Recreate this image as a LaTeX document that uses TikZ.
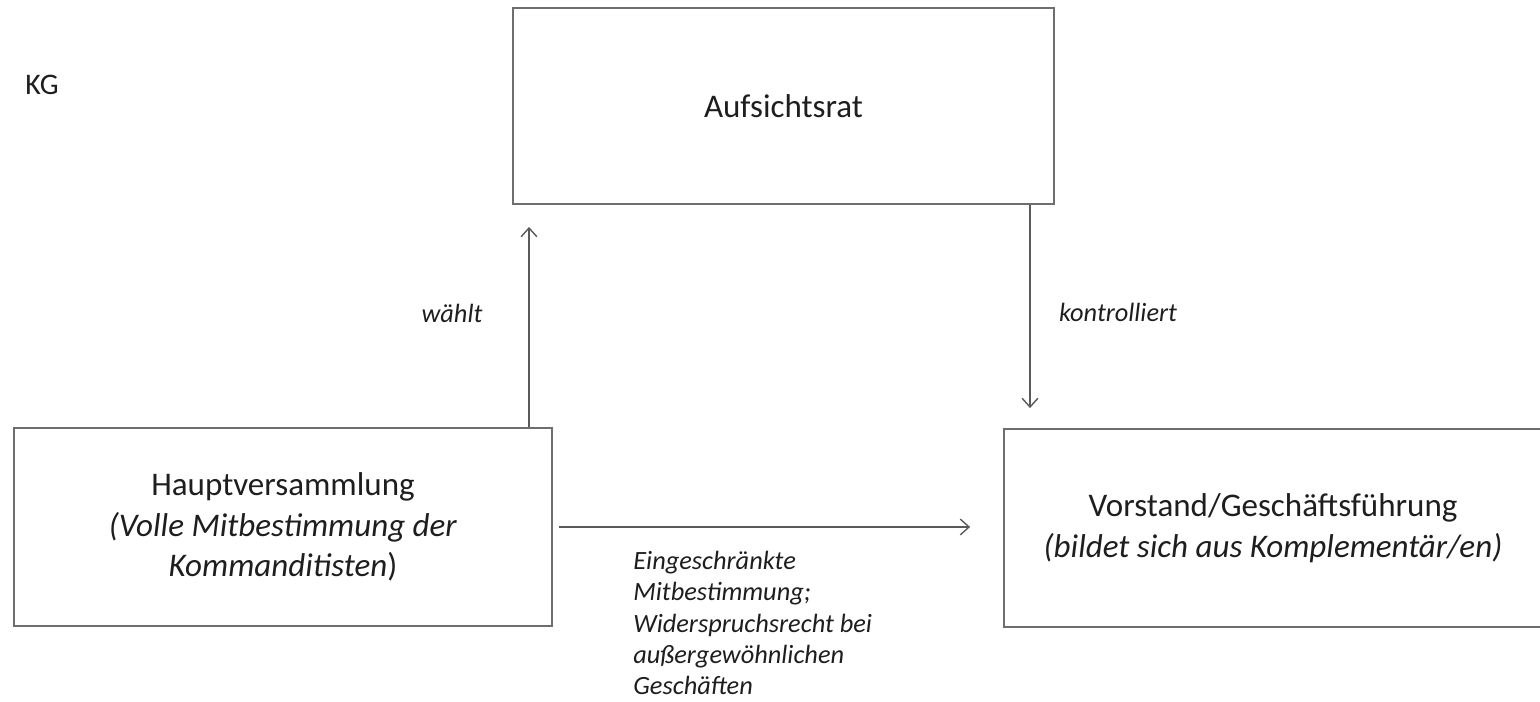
\documentclass[tikz,border=0pt]{standalone}
\usepackage{fontspec}
\setmainfont{Carlito}
\usepackage{xcolor}
\usepackage{tikz}
\usetikzlibrary{positioning, arrows.meta, calc}
\definecolor{boxLine}{HTML}{6e6e6e}
\definecolor{arrLine}{HTML}{5a5a5a}
\definecolor{txtMain}{HTML}{1e1e1e}
\newcommand{\mainsize}{\fontsize{18.8}{23}\selectfont}
\newcommand{\lblsize}{\fontsize{15}{17.8}\selectfont}

\begin{document}
\begin{tikzpicture}[x=0.02cm, y=-0.02cm, organ/.style={draw=boxLine, line width=1.1pt, minimum width=10.76cm, minimum height=3.96cm, align=center, font=\mainsize, text=txtMain, inner sep=0pt}, arr/.style={draw=arrLine, line width=0.8pt, -{Straight Barb[length=5pt, width=9pt]}}, lbl/.style={font=\lblsize\itshape, text=txtMain, inner sep=0pt}]
\useasboundingbox (0,0) rectangle (1540,701);
\node[font=\fontsize{17}{20}\selectfont, text=txtMain] (kg) at (42,85) {KG};
\node[organ, minimum width=10.82cm, minimum height=3.92cm] (ar) at (783.5,106) {Aufsichtsrat};
\node[organ] (hv) at (283,527) {Hauptversammlung\\\textit{(Volle Mitbestimmung der}\\\textit{Kommanditisten})};
\node[organ] (vs) at (1273,528) {Vorstand/Geschäftsführung\\\textit{(bildet sich aus Komplementär/en)}};
\coordinate (wx) at (529,0); \coordinate (kx) at (1030,0);
\draw[arr, shorten >=0.44cm] (hv.north -| wx) -- (ar.south -| wx);
\draw[arr, shorten >=0.40cm] (ar.south -| kx) -- (vs.north -| kx);
\draw[arr, shorten <=0.12cm, shorten >=0.66cm] (hv.east) -- (hv.east -| vs.west);
\node[lbl] (waehlt) at (452,313) {wählt};
\node[lbl] (kontr) at (1118,312) {kontrolliert};
\node[lbl, anchor=north west, align=left] (mitb) at (633,551) {Eingeschränkte\\Mitbestimmung;\\Widerspruchsrecht bei\\außergewöhnlichen\\Geschäften};
\end{tikzpicture}
\end{document}
